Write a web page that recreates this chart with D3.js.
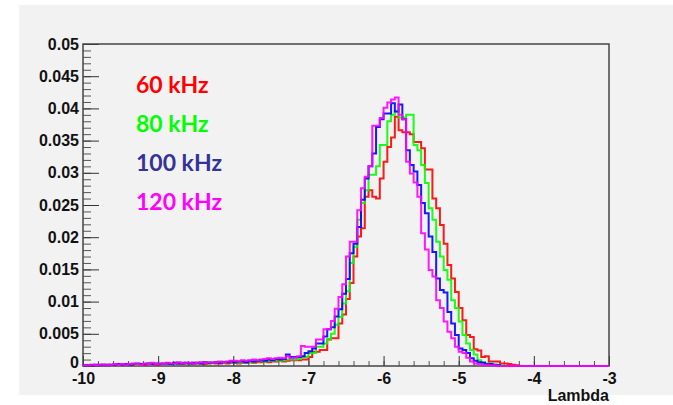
<!DOCTYPE html>
<html>
<head>
<meta charset="utf-8">
<script src="https://d3js.org/d3.v7.min.js"></script>
<style>
  body { margin: 0; background: #fff; }
  svg { display: block; }
</style>
</head>
<body>
<div id="chart-area"></div>
<script>
// histogram bins: 140 bins of 0.05 from -10 to -3
var binStart = -10;
var binWidth = 0.05;

var h60 = [
  0.0001,0.0001,0.0001,0.0001,0.0002,0.0001,0.0002,0.0001,0.0002,0.0002,
  0.0002,0.0002,0.0003,0.0002,0.0002,0.0003,0.0002,0.0003,0.0003,0.0002,
  0.0003,0.0003,0.0004,0.0003,0.0003,0.0004,0.0003,0.0004,0.0004,0.0003,
  0.0004,0.0004,0.0003,0.0004,0.0005,0.0004,0.0004,0.0005,0.0004,0.0005,
  0.0005,0.0004,0.0005,0.0005,0.0006,0.0005,0.0006,0.0006,0.0007,0.0006,
  0.0007,0.0007,0.0008,0.0007,0.0008,0.0009,0.0009,0.0009,0.0010,0.0010,
  0.0014,0.0022,0.0022,0.0025,0.0025,0.0041,0.0043,0.0043,0.0066,0.0080,
  0.0104,0.0129,0.0170,0.0201,0.0214,0.0263,0.0273,0.0263,0.0260,0.0291,
  0.0317,0.0340,0.0355,0.0387,0.0366,0.0363,0.0363,0.0360,0.0348,0.0348,
  0.0338,0.0305,0.0305,0.0260,0.0245,0.0219,0.0190,0.0157,0.0136,0.0115,
  0.0090,0.0071,0.0048,0.0045,0.0026,0.0024,0.0014,0.0015,0.0007,0.0007,
  0.0007,0.0004,0.0004,0.0003,0.0002,0.0001,0,0,0,0,
  0,0,0,0,0,0,0,0,0,0,
  0,0,0,0,0,0,0,0,0,0
];

var h80 = [
  0.0001,0.0001,0.0002,0.0001,0.0001,0.0002,0.0002,0.0001,0.0002,0.0002,
  0.0002,0.0003,0.0002,0.0003,0.0002,0.0003,0.0003,0.0004,0.0003,0.0003,
  0.0004,0.0003,0.0004,0.0004,0.0003,0.0004,0.0005,0.0004,0.0004,0.0005,
  0.0004,0.0005,0.0005,0.0004,0.0005,0.0006,0.0005,0.0005,0.0006,0.0006,
  0.0006,0.0005,0.0006,0.0007,0.0006,0.0007,0.0007,0.0008,0.0007,0.0008,
  0.0008,0.0009,0.0008,0.0009,0.0010,0.0010,0.0010,0.0011,0.0014,0.0014,
  0.0020,0.0020,0.0030,0.0030,0.0035,0.0042,0.0050,0.0064,0.0076,0.0097,
  0.0116,0.0160,0.0185,0.0227,0.0253,0.0273,0.0297,0.0297,0.0310,0.0343,
  0.0343,0.0380,0.0390,0.0395,0.0386,0.0386,0.0390,0.0390,0.0343,0.0335,
  0.0312,0.0284,0.0245,0.0227,0.0193,0.0170,0.0149,0.0134,0.0102,0.0090,
  0.0069,0.0048,0.0035,0.0025,0.0018,0.0009,0.0006,0.0004,0.0004,0.0002,
  0.0002,0.0001,0,0,0,0,0,0,0,0,
  0,0,0,0,0,0,0,0,0,0,
  0,0,0,0,0,0,0,0,0,0
];

var h100 = [
  0.0001,0.0001,0.0001,0.0002,0.0001,0.0002,0.0001,0.0002,0.0002,0.0003,
  0.0002,0.0003,0.0002,0.0003,0.0004,0.0003,0.0003,0.0004,0.0003,0.0004,
  0.0003,0.0004,0.0004,0.0003,0.0005,0.0004,0.0004,0.0005,0.0004,0.0005,
  0.0005,0.0004,0.0006,0.0005,0.0005,0.0006,0.0005,0.0006,0.0006,0.0007,
  0.0006,0.0007,0.0007,0.0006,0.0008,0.0007,0.0008,0.0009,0.0008,0.0010,
  0.0009,0.0011,0.0010,0.0011,0.0018,0.0014,0.0014,0.0014,0.0015,0.0020,
  0.0023,0.0027,0.0035,0.0035,0.0046,0.0057,0.0060,0.0077,0.0088,0.0112,
  0.0135,0.0175,0.0190,0.0216,0.0258,0.0291,0.0310,0.0330,0.0371,0.0383,
  0.0392,0.0392,0.0408,0.0395,0.0406,0.0383,0.0335,0.0312,0.0302,0.0281,
  0.0253,0.0237,0.0201,0.0177,0.0136,0.0118,0.0114,0.0084,0.0066,0.0048,
  0.0027,0.0025,0.0020,0.0012,0.0008,0.0006,0.0005,0.0003,0.0003,0.0002,
  0.0001,0,0,0,0,0,0,0,0,0,
  0,0,0,0,0,0,0,0,0,0,
  0,0,0,0,0,0,0,0,0,0
];

var h120 = [
  0.0001,0.0001,0.0002,0.0001,0.0002,0.0002,0.0001,0.0002,0.0003,0.0002,
  0.0003,0.0002,0.0003,0.0004,0.0003,0.0002,0.0004,0.0003,0.0005,0.0003,
  0.0004,0.0003,0.0005,0.0004,0.0004,0.0006,0.0004,0.0005,0.0005,0.0004,
  0.0005,0.0006,0.0005,0.0006,0.0005,0.0006,0.0007,0.0006,0.0007,0.0008,
  0.0008,0.0007,0.0009,0.0008,0.0009,0.0010,0.0009,0.0010,0.0011,0.0012,
  0.0011,0.0012,0.0013,0.0012,0.0015,0.0012,0.0013,0.0015,0.0031,0.0030,
  0.0030,0.0030,0.0041,0.0041,0.0057,0.0057,0.0070,0.0089,0.0107,0.0127,
  0.0170,0.0193,0.0193,0.0242,0.0276,0.0294,0.0310,0.0373,0.0373,0.0385,
  0.0401,0.0409,0.0414,0.0417,0.0390,0.0383,0.0317,0.0299,0.0285,0.0263,
  0.0206,0.0181,0.0149,0.0139,0.0102,0.0090,0.0069,0.0053,0.0043,0.0030,
  0.0022,0.0020,0.0013,0.0007,0.0004,0.0003,0.0002,0.0002,0.0001,0.0001,
  0,0,0,0,0,0,0,0,0,0,
  0,0,0,0,0,0,0,0,0,0,
  0,0,0,0,0,0,0,0,0,0
];

var seriesNames = ["60 kHz", "80 kHz", "100 kHz", "120 kHz"];
var lineColors = ["#ff0000", "#00ff00", "#0000ff", "#ff00ff"];
var textColors = ["#ff0000", "#00ff00", "#333399", "#ff00ff"];

var xTicks = [-10, -9, -8, -7, -6, -5, -4, -3];
var yTicks = [0, 0.005, 0.01, 0.015, 0.02, 0.025, 0.03, 0.035, 0.04, 0.045, 0.05];
var yTickLabels = ["0", "0.005", "0.01", "0.015", "0.02", "0.025", "0.03", "0.035", "0.04", "0.045", "0.05"];

var W = 673, H = 405;
var margin = { top: 44, right: 64, bottom: 39, left: 83 };
var width = W - margin.left - margin.right;
var height = H - margin.top - margin.bottom;

var svg = d3.select("#chart-area")
  .append("svg")
  .attr("width", W)
  .attr("height", H);

// slide-like grey panel
svg.append("rect")
  .attr("x", 19).attr("y", 5)
  .attr("width", W - 19).attr("height", 390)
  .attr("fill", "#f2f2f2");

var g = svg.append("g")
  .attr("transform", "translate(" + margin.left + "," + margin.top + ")");

var x = d3.scaleLinear().domain([-10, -3]).range([0, width]);
var y = d3.scaleLinear().domain([0, 0.05]).range([height, 0]);

// minor ticks
var xMinor = d3.range(-10, -3.0001, 0.2);
var yMinor = d3.range(0, 0.05001, 0.001);

g.append("g")
  .attr("class", "x minor")
  .attr("transform", "translate(0," + height + ")")
  .call(d3.axisBottom(x).tickValues(xMinor).tickSize(-5).tickFormat(""))
  .call(a => a.select(".domain").remove())
  .selectAll("line").attr("stroke", "#555");

g.append("g")
  .attr("class", "y minor")
  .call(d3.axisLeft(y).tickValues(yMinor).tickSize(-8).tickFormat(""))
  .call(a => a.select(".domain").remove())
  .selectAll("line").attr("stroke", "#555");

var xAxis = g.append("g")
  .attr("class", "x axis")
  .attr("transform", "translate(0," + height + ")")
  .call(d3.axisBottom(x).tickValues(xTicks).tickSize(-10).tickPadding(7).tickFormat(d => d));
xAxis.select(".domain").remove();
xAxis.selectAll("line").attr("stroke", "#333");
xAxis.selectAll("text")
  .attr("font-family", "Liberation Sans, Arial, sans-serif")
  .attr("font-weight", "bold")
  .attr("font-size", "16px")
  .attr("fill", "#111");

var yAxis = g.append("g")
  .attr("class", "y axis")
  .call(d3.axisLeft(y).tickValues(yTicks).tickSize(-16).tickPadding(4)
    .tickFormat((d, i) => yTickLabels[i]));
yAxis.select(".domain").remove();
yAxis.selectAll("line").attr("stroke", "#333");
yAxis.selectAll("text")
  .attr("font-family", "Liberation Sans, Arial, sans-serif")
  .attr("font-weight", "bold")
  .attr("font-size", "16px")
  .attr("fill", "#111");
// the "0" label sits a little higher so it clears the "-10" below it
yAxis.selectAll("text").filter((d, i) => i === 0).attr("dy", "0.1em");

// frame
g.append("rect")
  .attr("x", 0).attr("y", 0)
  .attr("width", width).attr("height", height)
  .attr("fill", "none")
  .attr("stroke", "#444")
  .attr("stroke-width", 1.5);

// histograms
var allData = [h60, h80, h100, h120];
var line = d3.line()
  .x(d => x(d[0]))
  .y(d => y(d[1]))
  .curve(d3.curveStepAfter);

allData.forEach((vals, k) => {
  var pts = [[binStart, 0]];
  vals.forEach((v, i) => pts.push([binStart + i * binWidth, v]));
  pts.push([binStart + vals.length * binWidth, vals[vals.length - 1]]);
  g.append("path")
    .attr("d", line(pts))
    .attr("fill", "none")
    .attr("stroke", lineColors[k])
    .attr("stroke-width", 2)
    .attr("stroke-opacity", 0.9);
});

// legend text
seriesNames.forEach((name, k) => {
  svg.append("text")
    .attr("x", 136)
    .attr("y", 93 + k * 39)
    .attr("font-family", "Lato, sans-serif")
    .attr("font-weight", "bold")
    .attr("font-size", "23px")
    .attr("fill", textColors[k])
    .text(name);
});

// x axis title
svg.append("text")
  .attr("x", margin.left + width)
  .attr("y", 401)
  .attr("text-anchor", "end")
  .attr("font-family", "Liberation Sans, Arial, sans-serif")
  .attr("font-weight", "bold")
  .attr("font-size", "16px")
  .attr("fill", "#111")
  .text("Lambda");
</script>
</body>
</html>
